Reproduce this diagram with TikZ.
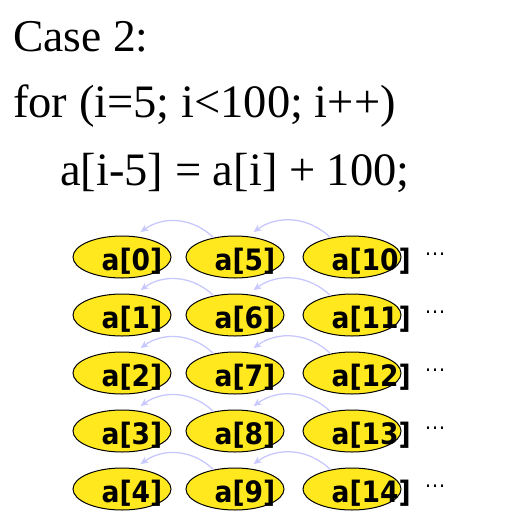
\documentclass[tikz,border=0pt]{standalone}
\usepackage{fontspec}
\setmainfont{Liberation Serif}
\newfontfamily\celdafont{DejaVu Sans Condensed}
\usetikzlibrary{shapes.geometric, arrows.meta}
\definecolor{amarillo}{RGB}{255,232,30}
\definecolor{lila}{RGB}{200,200,255}

\begin{document}
\begin{tikzpicture}[x=1pt, y=-1pt,
        codigo/.style={anchor=base west, inner sep=0pt, font=\fontsize{46.5}{46.5}\selectfont},
        celda/.style={ellipse, draw, line width=1pt, fill=amarillo, minimum width=98pt, minimum height=42pt, inner sep=0pt},
        indice/.style={anchor=base west, inner sep=0pt, font=\celdafont\bfseries\fontsize{29.5}{30}\selectfont},
        puntos/.style={anchor=base west, inner sep=0pt, font=\celdafont\fontsize{21}{21}\selectfont},
        dep/.style={-{Stealth[length=8pt,width=7pt]}, lila, line width=1.3pt, bend right=40}]
        \useasboundingbox (0,0) rectangle (519,523);

        % Texto del bucle
        \node[codigo, font=\fontsize{45.5}{45.5}\selectfont] (caso) at (13,51) {Case 2:};
        \node[codigo] (bucle) at (13,117) {for (i=5; i<100; i++)};
        \node[codigo] (cuerpo) at (60,185) {a[i-5] = a[i] + 100;};

        % Elementos del arreglo, una fila por cada i mod 5
        \foreach \f in {0,...,4} {
            \pgfmathsetmacro{\y}{257+58*\f}
            \foreach \c/\x in {0/122,1/235,2/352} {
                \pgfmathtruncatemacro{\k}{\f+5*\c}
                \node[celda] (e\k) at (\x,\y) {};
                \node[indice] (t\k) at ([xshift=29pt,yshift=-13pt]e\k.west) {a[\k]};
            }
            \pgfmathtruncatemacro{\m}{\f+5}
            \pgfmathtruncatemacro{\n}{\f+10}
            % Dependencias a[i] -> a[i-5]
            \draw[dep] (e\n.138) to ([yshift=5pt]e\m.47);
            \draw[dep] (e\m.138) to ([yshift=5pt]e\f.47);
            \node[puntos] (p\f) at (425,\y+4) {·\kern1pt·\kern1pt·};
        }

    \end{tikzpicture}
\end{document}
